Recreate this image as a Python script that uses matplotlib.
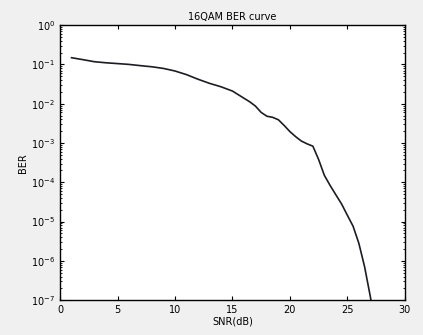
import numpy as np
import matplotlib
matplotlib.use('Agg')
import matplotlib.pyplot as plt
from matplotlib.ticker import LogLocator, NullFormatter

# SNR (dB) and simulated bit error rate
snr = [1, 2, 3, 4, 5, 6, 7, 8, 9, 10, 11, 12, 13, 14, 15, 16, 16.5, 17, 17.5,
       18, 18.5, 19, 19.5, 20, 20.5, 21, 21.5, 22, 22.5, 23, 23.5, 24, 24.5,
       25, 25.5, 26, 26.5, 27, 27.5]
ber = [0.148, 0.132, 0.117, 0.110, 0.105, 0.100, 0.093, 0.087, 0.079, 0.068,
       0.055, 0.042, 0.033, 0.027, 0.021, 0.0138, 0.0112, 8.7e-3, 6.0e-3,
       4.8e-3, 4.5e-3, 3.9e-3, 2.8e-3, 1.95e-3, 1.45e-3, 1.12e-3, 9.5e-4, 8.3e-4,
       3.8e-4, 1.5e-4, 8.3e-5, 4.8e-5, 2.8e-5, 1.45e-5, 7.6e-6, 2.8e-6, 7.1e-7,
       1.23e-7, 1.6e-8]

fig = plt.figure(figsize=(4.23, 3.35), dpi=100, facecolor='#f0f0f0')
ax = fig.add_axes([0.142, 0.104, 0.815, 0.821])
ax.semilogy(snr, ber, color='#1c1c24', linewidth=1.2)

ax.set_xlim(0, 30)
ax.set_ylim(1e-7, 1)
ax.set_xticks([0, 5, 10, 15, 20, 25, 30])
ax.yaxis.set_major_locator(LogLocator(base=10, numticks=10))
ax.yaxis.set_minor_locator(LogLocator(base=10, subs=np.arange(2, 10), numticks=20))
ax.yaxis.set_minor_formatter(NullFormatter())

ax.tick_params(which='both', direction='in', top=True, right=True, labelsize=7)
ax.tick_params(which='major', length=3)
ax.tick_params(which='minor', length=1.5)
for s in ax.spines.values():
    s.set_linewidth(1.0)

ax.set_title('16QAM BER curve', fontsize=7, pad=4)
ax.set_xlabel('SNR(dB)', fontsize=7, labelpad=1)
ax.set_ylabel('BER', fontsize=7, labelpad=2)

fig.savefig('out.png', dpi=100, facecolor=fig.get_facecolor())
